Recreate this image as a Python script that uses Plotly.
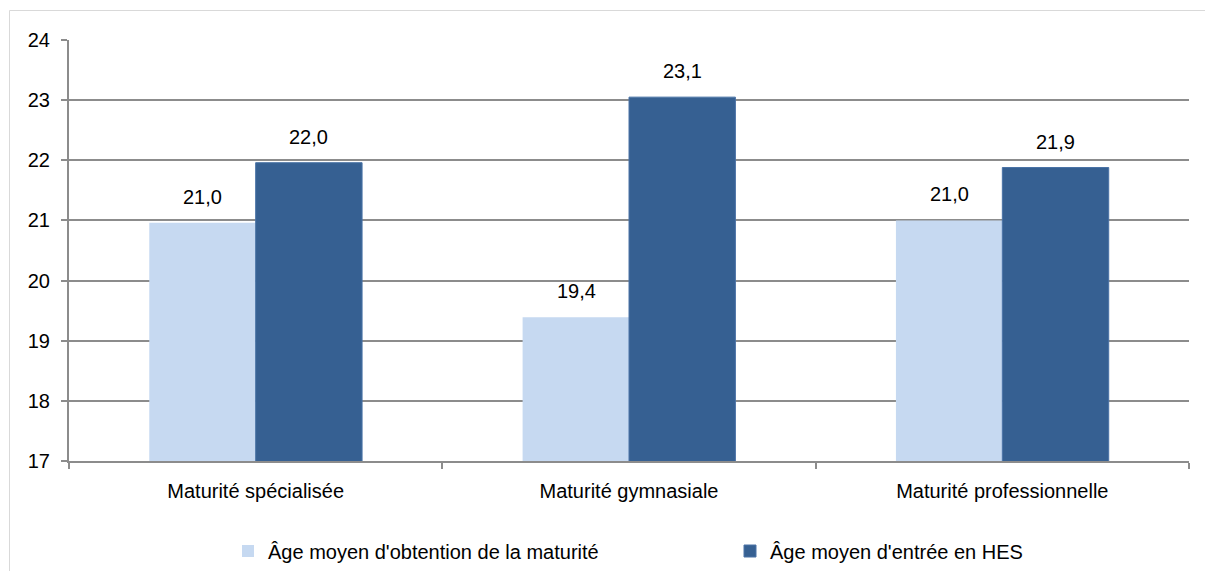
import plotly.graph_objects as go

categories = ["Maturité spécialisée", "Maturité gymnasiale", "Maturité professionnelle"]
age_obtention = [20.96, 19.39, 21.0]
age_entree = [21.96, 23.05, 21.88]
series_names = ["Âge moyen d'obtention de la maturité", "Âge moyen d'entrée en HES"]
y_ticks = [17, 18, 19, 20, 21, 22, 23, 24]

LIGHT = "#C6D9F1"
DARK = "#366092"
GRID = "#8C8C8C"
FONT = dict(family="Liberation Sans, Arial, sans-serif", size=20, color="#000000")

fig = go.Figure()
fig.add_trace(
    go.Bar(
        x=categories,
        y=age_obtention,
        name=series_names[0],
        marker=dict(color=LIGHT, line=dict(width=0)),
        legend="legend",
        showlegend=True,
    )
)
fig.add_trace(
    go.Bar(
        x=categories,
        y=age_entree,
        name=series_names[1],
        marker=dict(color=DARK, line=dict(color="#4A73A6", width=1)),
        legend="legend2",
        showlegend=True,
    )
)

# value labels above bars, a bit higher than plotly's own outside text
annotations = []
for shift, values in ((-53, age_obtention), (53, age_entree)):
    for cat, v in zip(categories, values):
        annotations.append(
            dict(
                x=cat,
                y=v,
                xshift=shift,
                yshift=13,
                yanchor="bottom",
                text=f"{v:.1f}".replace(".", ","),
                showarrow=False,
                font=FONT,
            )
        )

legend_style = dict(
    orientation="h",
    xanchor="left",
    y=(461 - 551) / 421,
    yanchor="middle",
    font=FONT,
    bgcolor="rgba(0,0,0,0)",
)

fig.update_layout(
    width=1205,
    height=571,
    margin=dict(l=69, r=16, t=40, b=110, autoexpand=False),
    paper_bgcolor="white",
    plot_bgcolor="white",
    font=FONT,
    showlegend=True,
    barmode="group",
    bargap=0.43,
    bargroupgap=0,
    annotations=annotations,
    legend=dict(legend_style, x=(228 - 69) / 1120),
    legend2=dict(legend_style, x=(730 - 69) / 1120),
    shapes=[
        dict(
            type="rect",
            xref="paper",
            yref="paper",
            x0=(9.5 - 69) / 1120,
            x1=(1215 - 69) / 1120,
            y0=(461 - 590) / 421,
            y1=(461 - 10.5) / 421,
            line=dict(color="#D9D9D9", width=1),
            layer="below",
        )
    ],
)
fig.update_xaxes(
    showline=True,
    linecolor=GRID,
    linewidth=2,
    ticks="outside",
    tickson="boundaries",
    ticklen=6,
    tickcolor=GRID,
    tickwidth=2,
    ticklabelstandoff=11,
    showgrid=False,
)
fig.update_yaxes(
    range=[17, 24],
    tickvals=y_ticks,
    showline=True,
    linecolor=GRID,
    linewidth=2,
    ticks="outside",
    ticklen=6,
    tickcolor=GRID,
    tickwidth=2,
    ticklabelstandoff=7,
    showgrid=True,
    gridcolor=GRID,
    gridwidth=2,
    zeroline=False,
)

# drop the page's default 8px body margin so the figure sits at the window corner
fig.write_html(
    "out.html",
    config={"displayModeBar": False},
    post_script="document.body.style.margin = '0';",
)
